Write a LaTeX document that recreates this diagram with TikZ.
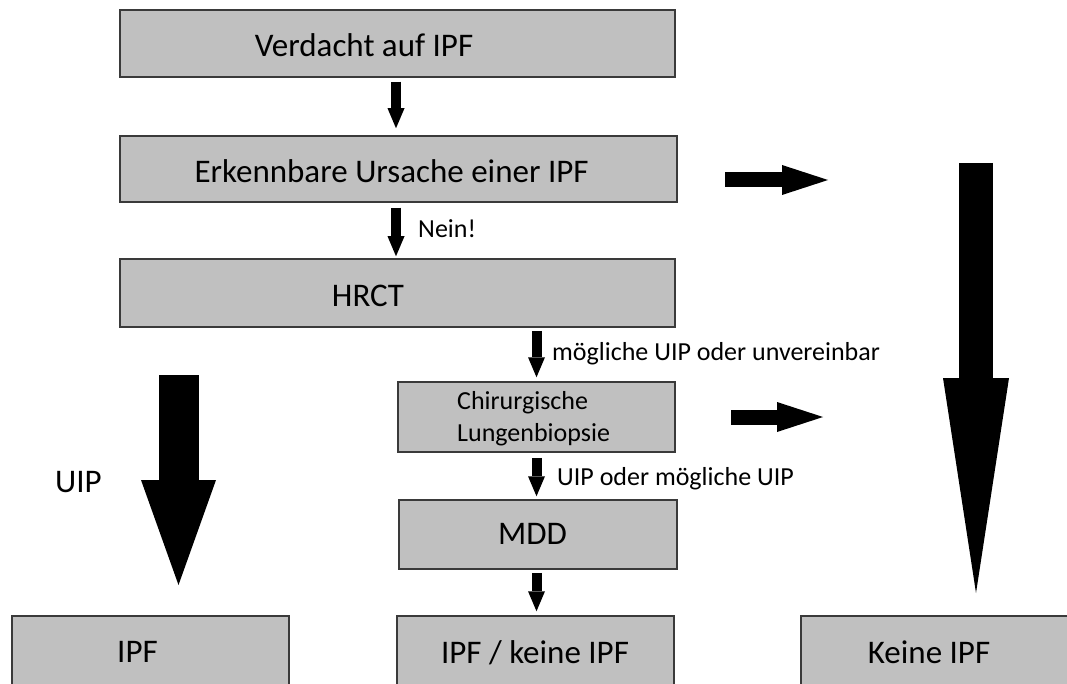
\documentclass[tikz,border=0pt]{standalone}
\usepackage{fontspec}
\setmainfont{Carlito}
\usetikzlibrary{arrows.meta}
\definecolor{boxgray}{HTML}{C0C0C0}
\definecolor{boxedge}{HTML}{3A3A3A}
\begin{document}
\begin{tikzpicture}[x=1pt,y=-1pt,
  box/.style={draw=boxedge, fill=boxgray, line width=1.5pt, rectangle, inner sep=0pt},
  bigtxt/.style={inner sep=0pt, font=\fontsize{33}{39}\selectfont, anchor=base},
  bigtxtl/.style={inner sep=0pt, font=\fontsize{33}{39}\selectfont, anchor=base west},
  smalltxt/.style={inner sep=0pt, font=\fontsize{26}{32}\selectfont, anchor=base west},
  smallarrow/.style={line width=10pt, -{Triangle[length=20pt,width=17pt,line width=0pt]}},
  sidearrow/.style={line width=15pt, -{Triangle[length=46pt,width=30pt,line width=0pt]}},
  bigleftarrow/.style={line width=40pt, -{Triangle[length=105pt,width=75pt,line width=0pt]}},
  bigrightarrow/.style={line width=34pt, -{Triangle[length=215pt,width=66pt,line width=0pt]}}
]
\useasboundingbox (0,0) rectangle (1067,684);
\clip (0,0) rectangle (1067,684);
\fill[white] (0,0) rectangle (1067,684);

% boxes
\node[box, minimum width=555pt, minimum height=67pt] (b1) at (397.5,43.5) {};
\node[box, minimum width=557pt, minimum height=66pt] (b2) at (398.5,169) {};
\node[box, minimum width=555pt, minimum height=68pt] (b3) at (397.5,293) {};
\node[box, minimum width=277pt, minimum height=70pt] (chir) at (536.5,417) {};
\node[box, minimum width=278pt, minimum height=69pt] (mdd) at (538,534.5) {};
\node[box, minimum width=277pt, minimum height=104pt] (fin) at (535.5,668) {};
\node[box, minimum width=277pt, minimum height=104pt] (ipf) at (150.5,668) {};
\node[box, minimum width=299pt, minimum height=104pt] (keine) at (950.5,668) {};

% box texts
\node[bigtxt] (t1) at (364,57) {Verdacht auf IPF};
\node[bigtxt] (t2) at (391.5,182.5) {Erkennbare Ursache einer IPF};
\node[bigtxt] (t3) at (368,306) {HRCT};
\node[smalltxt] (t4a) at (457,409) {Chirurgische};
\node[smalltxt] (t4b) at (457,441) {Lungenbiopsie};
\node[bigtxt] (t5) at (532.5,544) {MDD};
\node[bigtxt] (t6) at (535,663) {IPF / keine IPF};
\node[bigtxt] (t7) at (137.5,662) {IPF};
\node[bigtxt] (t8) at (929,663) {Keine IPF};

% labels
\node[smalltxt] (lnein) at (418,238) {Nein!};
\node[smalltxt] (lmoeg) at (552,360) {mögliche UIP oder unvereinbar};
\node[smalltxt] (luip2) at (557,485) {UIP oder mögliche UIP};
\node[bigtxtl] (luip) at (55,492) {UIP};

% small vertical arrows
\draw[smallarrow] ([xshift=-1.5pt,yshift=-4pt]b1.south) -- ([xshift=-1.5pt,yshift=7pt]b2.north -| b1.south);
\draw[smallarrow] ([xshift=-2.5pt,yshift=-5pt]b2.south) -- ([xshift=-2.5pt,yshift=2pt]b3.north -| b2.south);
\draw[smallarrow] ([yshift=-3pt]b3.south -| chir.north) -- ([yshift=4pt]chir.north);
\draw[smallarrow] ([yshift=-5pt]chir.south) -- ([yshift=3pt]mdd.north -| chir.south);
\draw[smallarrow] ([yshift=-3pt]mdd.south -| chir.south) -- ([yshift=4pt]fin.north -| chir.south);

% floating block arrows
\coordinate (r1s) at (725,180);
\coordinate (r1e) at (828,180);
\coordinate (r2s) at (731,417);
\coordinate (r2e) at (823,417);
\coordinate (ls) at (178.5,375);
\coordinate (le) at (178.5,585);
\coordinate (rs) at (976,163);
\coordinate (re) at (976,593);
\draw[sidearrow] (r1s) -- (r1e);
\draw[sidearrow] (r2s) -- (r2e);
\draw[bigleftarrow] (ls) -- (le);
\draw[bigrightarrow] (rs) -- (re);
\end{tikzpicture}
\end{document}
